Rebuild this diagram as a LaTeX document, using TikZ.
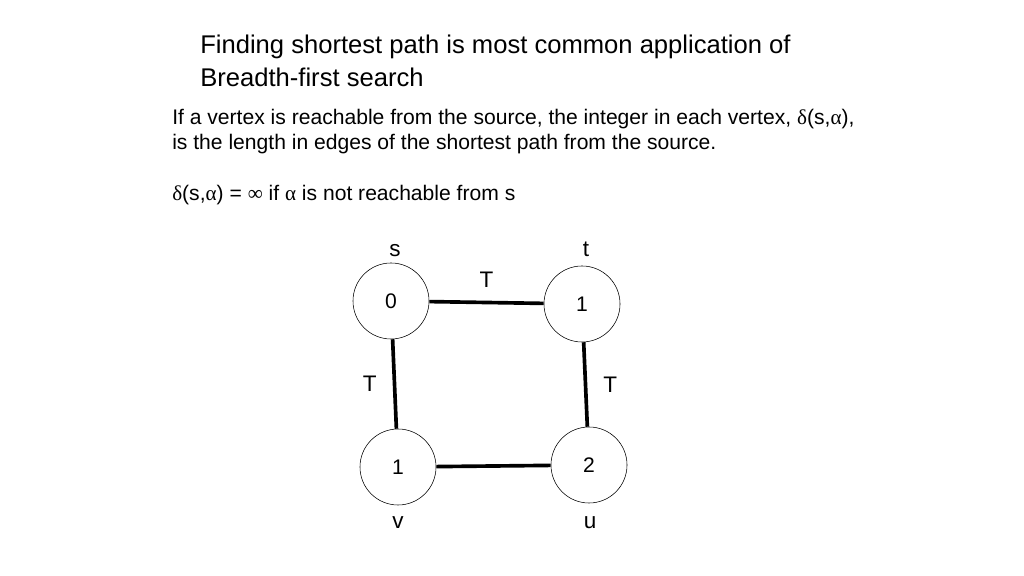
\documentclass[tikz,border=0pt]{standalone}
\usepackage{fontspec}
\setmainfont{Liberation Sans}
\newfontfamily\greekfont{Liberation Serif}
\newcommand{\gk}[1]{{\greekfont #1}}
\begin{document}
\begin{tikzpicture}[x=0.025cm,y=0.025cm]
			\useasboundingbox (0,0) rectangle (1024,576);
			\tikzset{vertex/.style={draw, circle, minimum size=1.9cm, inner sep=0pt, font=\fontsize{15}{17}\selectfont},
				tree/.style={line width=2.6pt},
				lbl/.style={font=\fontsize{16}{18}\selectfont},
				txt/.style={anchor=west, inner sep=0pt, font=\fontsize{15}{18}\selectfont}}
			% header text
			\node[txt, font=\fontsize{18.2}{21}\selectfont] (title1) at (200,529) {Finding shortest path is most common application of};
			\node[txt, font=\fontsize{18.2}{21}\selectfont] (title2) at (200,499) {Breadth-first search};
			\node[txt] (para1) at (172,457) {If a vertex is reachable from the source, the integer in each vertex, \gk{δ}(s,\gk{α}),};
			\node[txt] (para2) at (172,432) {is the length in edges of the shortest path from the source.};
			\node[txt] (para3) at (172,381) {\gk{δ}(s,\gk{α}) = \gk{∞} if \gk{α} is not reachable from s};
			% vertices
			\node[vertex] (s) at (391,275) {0};
			\node[vertex] (t) at (582,272) {1};
			\node[vertex] (v) at (398,109) {1};
			\node[vertex] (u) at (589,111) {2};
			\node[lbl] (sl) at (395,325) {s};
			\node[lbl] (tl) at (586,327) {t};
			\node[lbl] (vl) at (398,53) {v};
			\node[lbl] (ul) at (590,53) {u};
			% edges
			\draw[tree] (s) -- node[lbl, above=6pt] {T} (t);
			\draw[tree] (s) -- node[lbl, left=8pt] {T} (v);
			\draw[tree] (t) -- node[lbl, right=8pt] {T} (u);
			\draw[tree] (v) -- (u);
		\end{tikzpicture}
\end{document}
